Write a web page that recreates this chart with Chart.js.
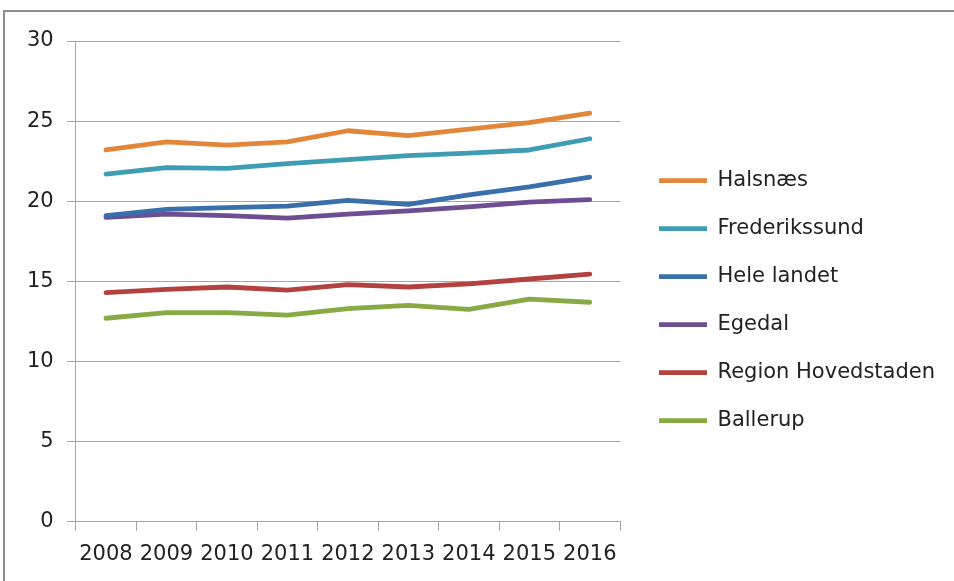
<!DOCTYPE html>
<html>
<head>
<meta charset="utf-8">
<script src="https://cdn.jsdelivr.net/npm/chart.js@4/dist/chart.umd.min.js"></script>
<style>
  html, body { margin: 0; padding: 0; background: #fff; }
  #wrap { position: relative; width: 954px; height: 581px; }
  #frame { position: absolute; left: 3px; top: 10px; right: -5px; bottom: -5px;
           border-top: 2px solid #8e8e8e; border-left: 2px solid #8e8e8e; pointer-events: none; }
</style>
</head>
<body>
<div id="wrap">
  <canvas id="graph1" width="954" height="581"></canvas>
  <div id="frame"></div>
</div>
<script>
const years = ["2008", "2009", "2010", "2011", "2012", "2013", "2014", "2015", "2016"];

const halsnaes = [23.2, 23.7, 23.5, 23.7, 24.4, 24.1, 24.5, 24.9, 25.5];
const frederikssund = [21.7, 22.1, 22.05, 22.35, 22.6, 22.85, 23.0, 23.2, 23.9];
const heleLandet = [19.1, 19.5, 19.6, 19.7, 20.05, 19.8, 20.4, 20.9, 21.5];
const egedal = [19.0, 19.2, 19.1, 18.95, 19.2, 19.4, 19.65, 19.95, 20.1];
const regionH = [14.3, 14.5, 14.65, 14.45, 14.8, 14.65, 14.85, 15.15, 15.45];
const ballerup = [12.7, 13.05, 13.05, 12.9, 13.3, 13.5, 13.25, 13.9, 13.7];

const yTicks = [0, 5, 10, 15, 20, 25, 30];

const font = { family: "DejaVu Sans", size: 21 };
const gridColor = "#a6a6a6";

function serie(label, data, color) {
  return {
    label: label,
    data: data,
    borderColor: color,
    backgroundColor: color,
    borderWidth: 4.8,
    borderCapStyle: "round",
    borderJoinStyle: "round",
    pointRadius: 0,
    pointHoverRadius: 0,
    tension: 0,
    fill: false,
    pointStyle: "line"
  };
}

const graph = document.getElementById("graph1").getContext("2d");

let myChart = new Chart(graph, {
  type: "line",
  data: {
    labels: years,
    datasets: [
      serie("Halsnæs", halsnaes, "#e2863a"),
      serie("Frederikssund", frederikssund, "#3f9db3"),
      serie("Hele landet", heleLandet, "#3a6fab"),
      serie("Egedal", egedal, "#6d4e93"),
      serie("Region Hovedstaden", regionH, "#b2413f"),
      serie("Ballerup", ballerup, "#87aa45")
    ]
  },
  options: {
    responsive: false,
    animation: false,
    events: [],
    layout: {
      padding: { left: 14, top: 41, right: 9, bottom: 3 }
    },
    plugins: {
      tooltip: { enabled: false },
      legend: {
        position: "right",
        align: "start",
        maxWidth: 400,
        // empty title only used to push the list down
        title: {
          display: true,
          text: "",
          font: { size: 1 },
          padding: { top: 0, bottom: 101 }
        },
        labels: {
          usePointStyle: true,
          pointStyleWidth: 48,
          boxHeight: 4,
          padding: 27,
          color: "#222",
          font: font
        }
      }
    },
    scales: {
      x: {
        offset: true,
        grid: {
          offset: true,
          drawOnChartArea: false,
          drawTicks: true,
          tickLength: 9,
          color: gridColor
        },
        border: { color: gridColor, width: 1 },
        ticks: {
          color: "#222",
          font: font,
          padding: 11,
          maxRotation: 0,
          autoSkip: false
        }
      },
      y: {
        min: 0,
        max: 30,
        afterBuildTicks: (axis) => { axis.ticks = yTicks.map(v => ({ value: v })); },
        grid: {
          color: gridColor,
          tickLength: 9,
          drawTicks: true
        },
        border: { color: gridColor, width: 1 },
        ticks: {
          color: "#222",
          font: font,
          padding: 13
        }
      },
      // empty strip between the plot and the legend
      gap: {
        type: "linear",
        position: "right",
        display: true,
        min: 0,
        max: 1,
        grid: { display: false, drawTicks: false },
        border: { display: false },
        ticks: { display: false },
        afterFit: (axis) => { axis.width = 12; }
      }
    }
  }
});
</script>
</body>
</html>
